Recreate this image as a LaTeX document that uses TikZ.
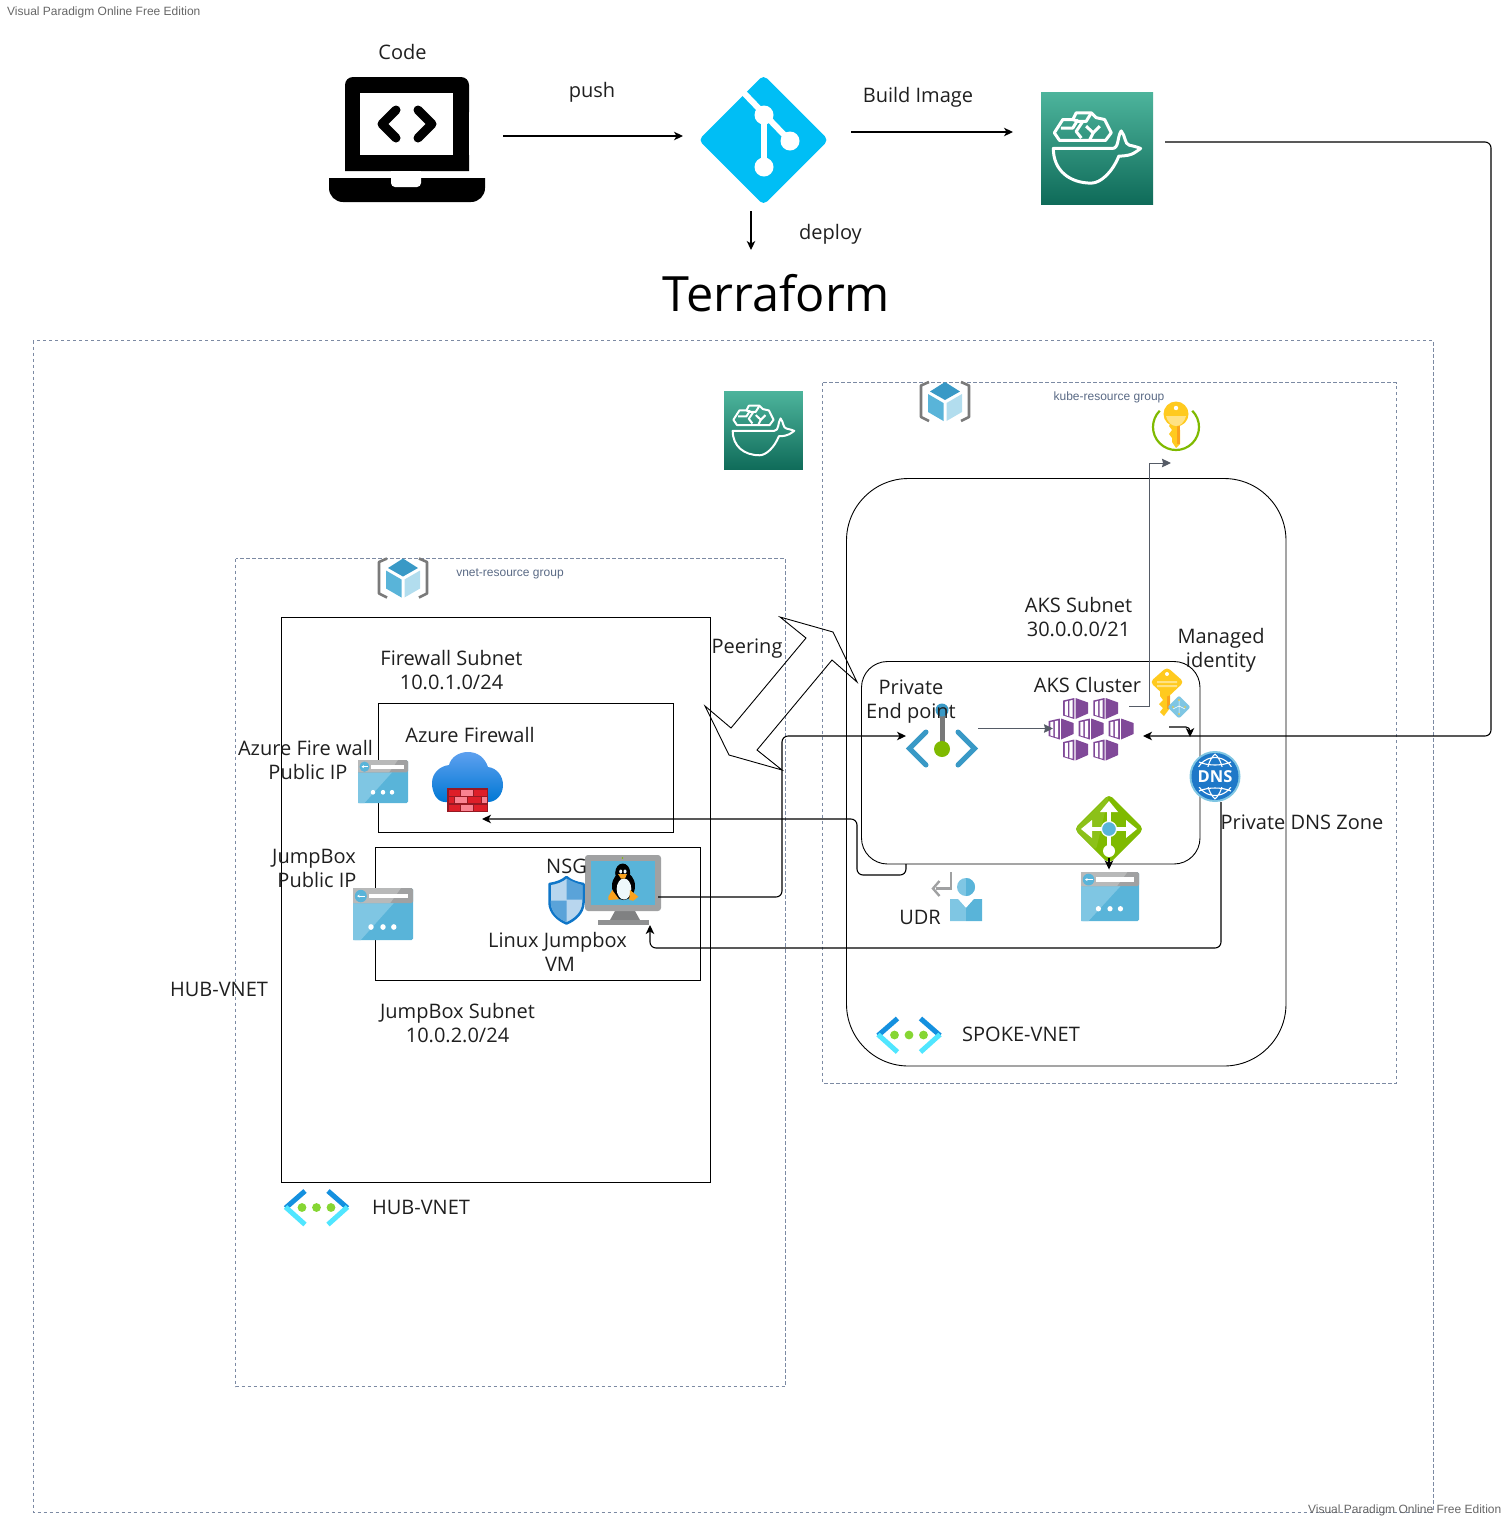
\documentclass[tikz,border=0pt]{standalone}
\usepackage{fontspec}
\setmainfont{Open Sans}
\newfontfamily\smallsans{Liberation Sans}
\usetikzlibrary{arrows.meta,calc}
\definecolor{rgline}{HTML}{7C8AA3}
\definecolor{txt}{HTML}{1F1F1F}
\definecolor{smalltxt}{HTML}{5A6A85}
\definecolor{wmk}{HTML}{666666}
\definecolor{azblue}{HTML}{59B4D9}
\definecolor{azlight}{HTML}{7FC6E3}
\definecolor{azgray}{HTML}{A0A1A2}
\definecolor{pegblue}{HTML}{3999C6}
\definecolor{akspurple}{HTML}{804998}
\definecolor{azgreen}{HTML}{7FBA00}
\definecolor{gitblue}{HTML}{00BEF5}
\definecolor{keyyellow}{HTML}{FFCA1F}
\definecolor{keydark}{HTML}{FAA21D}
\definecolor{connGray}{HTML}{555B66}
\definecolor{whaleTop}{HTML}{4DB49C}
\definecolor{whaleBot}{HTML}{0F6B59}
\definecolor{iconGray}{HTML}{7A7A7A}
\definecolor{vnDark}{HTML}{1490DF}
\definecolor{vnLight}{HTML}{50E6FF}
\definecolor{vnGreen}{HTML}{86D633}
\definecolor{dnsBlue}{HTML}{1E78C8}
\definecolor{cloudTop}{HTML}{5EA0EF}
\definecolor{cloudBot}{HTML}{0078D4}
\definecolor{brickBack}{HTML}{961923}
\definecolor{brickA}{HTML}{DE1E28}
\definecolor{brickB}{HTML}{FA8291}
\definecolor{shieldLine}{HTML}{0F76C8}
\definecolor{shieldLight}{HTML}{B8D6EE}
\definecolor{shieldMid}{HTML}{5AA3D9}
\tikzset{
  lbl/.style={font=\fontsize{20}{24}\selectfont,text=txt,align=center,inner sep=0pt},
  smalllbl/.style={font=\smallsans\fontsize{12}{14}\selectfont,text=smalltxt,inner sep=0pt},
  wmklbl/.style={font=\smallsans\fontsize{12}{14}\selectfont,text=wmk,inner sep=0pt},
  rgbox/.style={draw=rgline,line width=0.9pt,dash pattern=on 3.5pt off 2.5pt},
  netbox/.style={draw=black,line width=0.9pt},
  conn/.style={draw=black,line width=1.1pt,rounded corners=6pt,-{Stealth[length=9pt,width=8.5pt,inset=2.5pt]}},
  conngray/.style={draw=connGray,line width=1pt,-{Stealth[length=9pt,width=8.5pt,inset=1pt]}},
  whale/.pic={
    \shade[top color=whaleTop,bottom color=whaleBot,draw=none] (0,0) rectangle (236,236);
    \begin{scope}[draw=white,line join=round,line width=#1]
    \draw (26,119) -- (150,119) .. controls (165,119) and (160,95) .. (169,82) .. controls (178,92) and (176,110) .. (186,112) .. controls (195,114) and (203,116) .. (210,119) .. controls (200,125) and (195,135) .. (164,135) .. controls (150,170) and (125,192) .. (106,192) .. controls (60,192) and (26,165) .. (26,119) -- cycle;
    \draw (28,86) -- (46,58) -- (67,58) -- (74,44) -- (106,44) -- (116,54) -- (134,58) -- (148,86) -- (136,102) -- (39,102) -- cycle;
    \draw (42,76) -- (67,76) -- (78,58);
    \draw (67,58) -- (78,62) -- (95,62) -- (106,44);
    \draw (88,62) -- (74,83) -- (85,97);
    \draw (95,72) -- (110,86) -- (124,72);
    \draw (110,86) -- (102,102);
    \end{scope}
  },
  rgicon/.pic={
    \draw[iconGray,line width=2.6pt,line join=round] (9,0) -- (1,3.5) -- (1,35) -- (9,39);
    \draw[iconGray,line width=2.6pt,line join=round] (41,0) -- (49,3.5) -- (49,35) -- (41,39);
    \fill[pegblue] (25,0) -- (40,9.5) -- (25,18) -- (10,9.5) -- cycle;
    \fill[azblue] (8,12) -- (23.5,21) -- (23.5,39) -- (8,30) -- cycle;
    \fill[azlight!60!white] (42,12) -- (26.5,21) -- (26.5,39) -- (42,30) -- cycle;
  },
  ipicon/.pic={
    \fill[azblue,rounded corners=1.5pt] (0,0) rectangle (100,100);
    \fill[azlight] (0,29) -- (68,29) -- (13,100) -- (0,100) -- cycle;
    \fill[azgray,rounded corners=1.5pt] (0,0) rectangle (100,29);
    \fill[azgray!75!white] (0,0) -- (80,0) -- (62,29) -- (0,29) -- cycle;
    \fill[white] (26,11) rectangle (92,20);
    \fill[azblue] (13,15.5) ellipse (10 and 12);
    \draw[white,line width=0.9pt,-{Stealth[length=2.5pt,width=3pt]}] (20,15.5) -- (7,15.5);
    \fill[white] (30,75) ellipse (4.5 and 5.5) (50,75) ellipse (4.5 and 5.5) (68,75) ellipse (4.5 and 5.5);
  },
  vnicon/.pic={
    \draw[vnDark,line width=5pt] (-11.5,-16.5) -- (-31,0.5);
    \draw[vnLight,line width=5pt] (-31,-0.5) -- (-11.5,17);
    \draw[vnDark,line width=5pt] (11.5,-16.5) -- (31,0.5);
    \draw[vnLight,line width=5pt] (31,-0.5) -- (11.5,17);
    \fill[vnGreen] (-14.5,0) circle (4.4) (0,0) circle (4.4) (14.5,0) circle (4.4);
  },
  akscube/.pic={
    \fill[akspurple] (0,-10.5) -- (12.5,-6) -- (12.5,5) -- (0,10.5) -- cycle;
    \fill[akspurple] (-12.3,-8) -- (-1.2,-10.5) -- (-1.2,10.5) -- (-12.3,7) -- cycle;
    \fill[white] (-10.6,-6.8) -- (-7.6,-7.5) -- (-7.6,7.4) -- (-10.6,6.4) -- cycle;
    \fill[white] (-6.2,-7.8) -- (-3,-8.5) -- (-3,8.7) -- (-6.2,7.8) -- cycle;
  }
}
\begin{document}
\begin{tikzpicture}[x=1pt,y=-1pt]
\useasboundingbox (0,0) rectangle (1507,1519);

% ---- containers
\node[wmklbl,anchor=west] (wmkTop) at (7,12) {Visual Paradigm Online Free Edition};
\draw[rgbox] (33,340.5) rectangle (1433,1512);
\draw[rgbox] (822.5,382.5) rectangle (1396,1083);
\draw[rgbox] (235.5,558.5) rectangle (785.5,1386.5);
\draw[netbox,rounded corners=62pt] (846.5,478.5) rectangle (1286,1066);
\draw[netbox,rounded corners=26pt] (861.5,661.5) rectangle (1200,864);
\draw[netbox] (281.5,617.5) rectangle (710.5,1182);
\draw[netbox] (378.5,703.5) rectangle (673,832);
\draw[netbox] (375.5,847.5) rectangle (700.5,980.5);
\node[wmklbl,anchor=east] (wmkBot) at (1501.5,1510) {Visual Paradigm Online Free Edition};

% ---- peering arrow
\draw[black,line width=0.9pt,line join=miter] (780,617) -- (833,632) -- (857,682) -- (832,660) -- (757,750) -- (782,770) -- (729,755) -- (705,706) -- (731,728) -- (806,638) -- cycle;

% ---- laptop
\fill[black,rounded corners=8pt] (345,77) -- (469,77) -- (469,120) -- (345,120) -- cycle;
\fill[black] (345,100) rectangle (469,171);
\fill[white] (360,93) rectangle (453,155);
\draw[black,line width=9pt,line cap=round,line join=round] (396,110) -- (382,124) -- (396,138);
\draw[black,line width=9pt,line cap=round,line join=round] (418,110) -- (432,124) -- (418,138);
\fill[black,rounded corners=14pt] (329,160) -- (485,160) -- (485,202) -- (329,202) -- cycle;
\fill[white] (325,171) rectangle (490,178);
\fill[white] (325,155) rectangle (345,178);
\fill[white] (469,155) rectangle (490,178);
\fill[white,rounded corners=4pt] (391,172) -- (421,172) -- (421,187) -- (391,187) -- cycle;
\fill[black] (345,155) rectangle (360,171) (453,155) rectangle (469,171) (360,155) rectangle (453,171);
\fill[white] (391,171) rectangle (421,178);

% ---- git
\fill[gitblue,rounded corners=5pt] (763.5,75) -- (828.5,140) -- (763.5,205) -- (698.5,140) -- cycle;
\draw[white,line width=6pt] (743,92) -- (790,141);
\draw[white,line width=6pt] (764,115) -- (764,167);
\fill[white] (764,115) circle (9.5) (790,141) circle (9.5) (764,167) circle (9.5);

% ---- registry icons
\pic[scale=0.4746] at (1041,92) {whale=3pt};
\pic[scale=0.3347] at (724,391) {whale=2pt};

% ---- resource group icons
\pic at (920,382) {rgicon};
\pic at (378,558.5) {rgicon};

% ---- key vault key
\draw[azgreen,line width=2.2pt] ($(1176,427)+(-45:23)$) arc (-45:225:23);
\fill[keyyellow] (1172,420) rectangle (1180,442);
\fill[keyyellow] (1172,438) -- (1169,434) -- (1172,430) -- (1169,426) -- (1172,422) -- cycle;
\fill[keyyellow] (1172,442) -- (1176,448) -- (1180,444) -- (1180,430) -- cycle;
\fill[keydark] (1177,420) rectangle (1180,444);
\fill[keyyellow] (1176,414) circle (12.5);
\fill[keyyellow!55!white] (1166,416) -- (1186,416) .. controls (1184,423) and (1180,426) .. (1176,426) .. controls (1172,426) and (1168,423) .. (1166,416) -- cycle;
\fill[white] (1176,408) circle (2.2);

% ---- managed identity
\fill[keyyellow] (1160,690) -- (1170,690) -- (1170,708) -- (1164,716) -- (1160,712) -- (1163,708) -- (1159,704) -- (1163,700) -- (1160,696) -- cycle;
\fill[keydark] (1167,692) rectangle (1170,709);
\fill[keyyellow,rounded corners=4pt] (1167,667) -- (1184,682) -- (1167,698) -- (1150,682) -- cycle;
\fill[keyyellow!55!white] (1157,681) rectangle (1177,683) (1157,685) rectangle (1177,687);
\fill[white] (1167,674) circle (2);
\fill[azlight,rounded corners=2pt] (1179,695.5) -- (1190.5,707) -- (1179,718.5) -- (1167.5,707) -- cycle;
\draw[white,line width=0.5pt] (1179,700) -- (1179,714) (1179,706) -- (1173,709) (1179,706) -- (1185,709);
\fill[keyyellow] (1179,700) circle (0.9) (1179,714) circle (0.9) (1173,707) circle (0.9) (1185,707) circle (0.9);

% ---- private endpoint
\draw[pegblue,line width=5pt,line cap=round,line join=miter] (926,732) -- (909.5,748.5) -- (926,765);
\draw[pegblue,line width=5pt,line cap=round,line join=miter] (958,732) -- (974.5,748.5) -- (958,765);
\draw[azgray!75!black,line width=5pt] (942,710) -- (942,748);
\fill[pegblue] (942,710) circle (6.5);
\fill[azgreen] (942,749) circle (8);

% ---- AKS
\pic at (1075.5,708.5) {akscube};
\pic at (1105.7,708.5) {akscube};
\pic at (1061,729) {akscube};
\pic at (1091,729) {akscube};
\pic at (1121,729) {akscube};
\pic at (1075.5,750) {akscube};
\pic at (1105.7,750) {akscube};

% ---- DNS
\fill[azlight] (1215,776.5) circle (25.5);
\fill[dnsBlue] (1215,776.5) circle (23.5);
\draw[white,line width=1.1pt] (1215,776.5) circle (19) (1199,762) .. controls (1208,766) and (1222,766) .. (1231,762) (1199,791) .. controls (1208,787) and (1222,787) .. (1231,791) (1215,754) .. controls (1204,764) and (1204,789) .. (1215,799) (1215,754) .. controls (1226,764) and (1226,789) .. (1215,799);
\fill[dnsBlue] (1194,767) rectangle (1236,787);
\node[font=\bfseries\fontsize{16.5}{18}\selectfont,text=white,inner sep=0pt] (dnsIcon) at (1215,777) {DNS};

% ---- app gateway
\fill[azgreen,rounded corners=5pt] (1109,794) -- (1144,829) -- (1109,864) -- (1074,829) -- cycle;
\fill[azgreen!90!white,rounded corners=3pt] (1109,795) -- (1075,829) -- (1096,850) -- cycle;
\draw[white,line width=3.5pt] (1088,829) -- (1130,829) (1109,808) -- (1109,850);
\fill[white] (1081,829) -- (1092,820) -- (1092,838) -- cycle;
\fill[white] (1137,829) -- (1126,820) -- (1126,838) -- cycle;
\fill[white] (1109,801) -- (1100,812) -- (1118,812) -- cycle;
\fill[white] (1109,851) circle (6);
\fill[azblue,draw=white,line width=1.2pt] (1109,829) circle (7.5);

% ---- public IP icons
\pic[xscale=0.58,yscale=0.49] at (1081,872) {ipicon};
\pic[xscale=0.50,yscale=0.43] at (358,760) {ipicon};
\pic[xscale=0.60,yscale=0.52] at (353,888) {ipicon};

% ---- UDR
\draw[azgray,line width=2.4pt] (951,872) -- (951,888.5) -- (936,888.5);
\draw[azgray,line width=2.4pt] (939.5,881) -- (933,888.5) -- (939.5,896);
\fill[azlight] (966,887) circle (9);
\fill[azblue] (966,878) arc (-90:90:9) -- cycle;
\fill[azlight] (950,899) -- (958,899) -- (966,908) -- (966,921) -- (950,921) -- cycle;
\fill[azblue] (982,899) -- (974,899) -- (966,908) -- (966,921) -- (982,921) -- cycle;

% ---- firewall
\shade[top color=cloudTop,bottom color=cloudBot] (445,802) .. controls (437,802) and (432,793) .. (432,783) .. controls (432,773) and (440,766) .. (449,765) .. controls (451,757) and (459,752) .. (468,752) .. controls (478,752) and (485,758) .. (488,767) .. controls (497,768) and (503,776) .. (503,785) .. controls (503,795) and (496,802) .. (488,802) -- cycle;
\fill[brickBack] (447,788) rectangle (488,812);
\foreach \xa/\xb/\ya/\cl in {448.5/460/790/brickA,461/473/790/brickB,474/487/790/brickA,448.5/453.5/797/brickA,455/467/797/brickB,468/481/797/brickA,482/487/797/brickB,448.5/460/804.5/brickA,461/473/804.5/brickB,474/487/804.5/brickA}{
  \fill[\cl] (\xa,\ya) rectangle (\xb,\ya+6);
}

% ---- Linux VM
\fill[azgray!80!black] (615,911) -- (635,911) -- (640,920) -- (610,920) -- cycle;
\fill[azgray!90!black] (598,920) rectangle (649,925);
\fill[azgray,rounded corners=3pt] (585,855) rectangle (661,911);
\fill[azblue] (591,861) rectangle (655,905);
\fill[black] (623.5,886) ellipse (11.5 and 14);
\fill[black] (622.7,873) ellipse (7.5 and 9.5);
\fill[white!90!azblue] (624,889) ellipse (7.3 and 10.5);
\fill[white!90!azblue] (620.7,871.5) ellipse (1.5 and 2) (625,871.5) ellipse (1.5 and 2);
\fill[keydark] (618,874) -- (627,874) -- (625,878.5) -- (621,878.5) -- cycle;
\fill[keydark] (612.3,890) -- (619,899.3) -- (608.3,900) -- (608.3,896.7) -- cycle;
\fill[keydark] (630,890) -- (638.3,896.7) -- (633.3,900.7) -- (629.3,900) -- cycle;
\fill[azgreen] (622.5,858) circle (0.9);

% ---- NSG shield
\draw[shieldLine,line width=2.5pt,line join=round,fill=shieldLight] (566.5,877) .. controls (562,881) and (556,883) .. (549.5,884) -- (549.5,903) .. controls (550,913) and (558,920) .. (566.5,923.5) .. controls (575,920) and (583,913) .. (583.5,903) -- (583.5,884) .. controls (577,883) and (571,881) .. (566.5,877) -- cycle;
\fill[shieldMid] (566.5,878.5) .. controls (571,881) and (577,883.5) .. (582.3,885) -- (582.3,899.5) -- (566.5,899.5) -- cycle;
\fill[shieldMid] (550.7,900.5) -- (566.5,900.5) -- (566.5,922) .. controls (558,919) and (551,912) .. (550.7,903) -- cycle;

% ---- VNet icons
\pic at (316.5,1207.5) {vnicon};
\pic at (909,1035) {vnicon};

% ---- connector ends
\coordinate (laptopOut) at (503,136);
\coordinate (gitIn) at (683,136);
\coordinate (gitOut) at (851,132);
\coordinate (ecrIn) at (1013,132);
\coordinate (gitDown) at (751,211);
\coordinate (tfTop) at (751,250);
\coordinate (ecrOut) at (1165,142);
\coordinate (aksIn) at (1143,736);
\coordinate (vmOut) at (658,897);
\coordinate (pepIn) at (906,736);
\coordinate (pepOut) at (978,728.5);
\coordinate (aksLeft) at (1053,728.5);
\coordinate (aksOut) at (1129,706);
\coordinate (kvIn) at (1171,463);
\coordinate (smallOut) at (1169,727);
\coordinate (smallIn) at (1190,737);
\coordinate (agwOut) at (1109,858);
\coordinate (ipIn) at (1109,869.5);
\coordinate (dnsOut) at (1221,802);
\coordinate (vmIn) at (650,925);
\coordinate (subOut) at (906,864);
\coordinate (fwIn) at (482,819);

% ---- connectors
\draw[conn] (laptopOut) -- (gitIn);
\draw[conn] (gitOut) -- (ecrIn);
\draw[conn] (gitDown) -- (tfTop);
\draw[conn] (ecrOut) -- (1491,142) -- (1491,736) -- (aksIn);
\draw[conn] (vmOut) -- (782,897) -- (782,736) -- (pepIn);
\draw[conngray] (pepOut) -- (aksLeft);
\draw[conngray] (aksOut) -- (1149,706) -- (1149,463) -- (kvIn);
\draw[conn,rounded corners=4pt] (smallOut) -- (1190,727) -- (smallIn);
\draw[conn] (agwOut) -- (ipIn);
\draw[conn] (dnsOut) -- (1221,948) -- (650,948) -- (vmIn);
\draw[conn] (subOut) -- (906,875) -- (857,875) -- (857,819) -- (fwIn);

% ---- labels
\node[lbl] (tCode) at (402.5,52) {Code};
\node[lbl] (tPush) at (592,92) {push};
\node[lbl] (tBuild) at (918,97) {Build Image};
\node[lbl] (tDeploy) at (830.5,234) {deploy};
\node[lbl,font=\fontsize{48.6}{56}\selectfont,text=black] (tTerraform) at (776.5,293) {Terraform};
\node[smalllbl] (tKube) at (1109,397) {kube-resource group};
\node[smalllbl] (tVnet) at (510,573.5) {vnet-resource group};
\node[lbl] (tAksSub) at (1078.5,617) {AKS Subnet\\30.0.0.0/21};
\node[lbl] (tManaged) at (1221,650) {Managed\\identity};
\node[lbl] (tPep) at (911,702) {Private\\End point};
\node[lbl] (tAks) at (1087.5,685) {AKS Cluster};
\node[lbl] (tDns) at (1302,822) {Private DNS Zone};
\node[lbl] (tUdr) at (920,917) {UDR};
\node[lbl] (tSpoke) at (1021,1034) {SPOKE-VNET};
\node[lbl] (tPeering) at (747,649) {Peering};
\node[lbl] (tFwSub) at (451.5,670) {Firewall Subnet\\10.0.1.0/24};
\node[lbl] (tFw) at (470,735) {Azure Firewall};
\node[lbl] (tFwIp) at (305.5,760) {Azure Fire wall\\\hspace*{5pt}Public IP};
\node[lbl] (tJbIp) at (314,868) {JumpBox\\\hspace*{6pt}Public IP};
\node[lbl] (tNsg) at (566.5,866) {NSG};
\node[lbl] (tVm) at (557.5,952) {Linux Jumpbox\\\hspace*{5pt}VM};
\node[lbl] (tHubSide) at (219,989) {HUB-VNET};
\node[lbl] (tJbSub) at (457.5,1023) {JumpBox Subnet\\10.0.2.0/24};
\node[lbl] (tHub) at (421,1207) {HUB-VNET};
\end{tikzpicture}
\end{document}
